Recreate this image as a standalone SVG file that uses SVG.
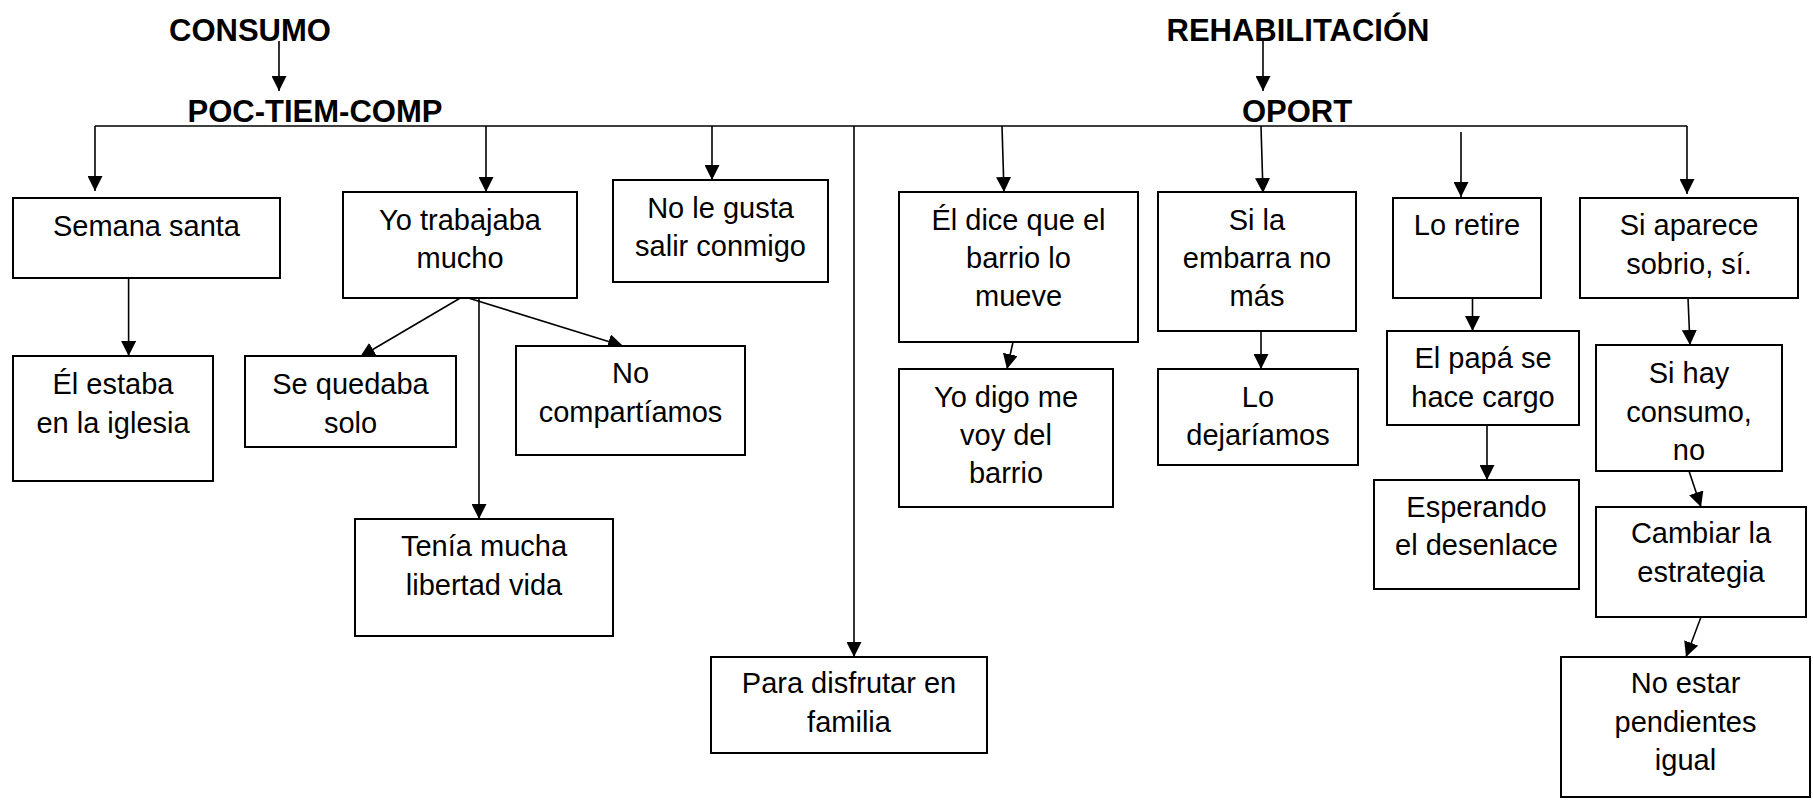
<svg xmlns="http://www.w3.org/2000/svg" width="1813" height="805" viewBox="0 0 1813 805">
<style>
.box{fill:#fff;stroke:#000;stroke-width:2}
.t{font-family:"Liberation Sans",Arial,sans-serif;font-size:29px;fill:#000;text-anchor:middle}
.h{font-family:"Liberation Sans",Arial,sans-serif;font-size:31px;font-weight:bold;fill:#000;text-anchor:middle}
.c line{stroke:#000;stroke-width:1.6;marker-end:url(#ah)}
.c .plain{marker-end:none}
</style>
<defs>
<marker id="ah" markerWidth="16" markerHeight="15" refX="15" refY="7.5" orient="auto" markerUnits="userSpaceOnUse">
<path d="M0,0 L15,7.5 L0,15 z" fill="#000"/>
</marker>
</defs>
<rect width="1813" height="805" fill="#fff"/>
<g id="connectors" class="c">
<line x1="279" y1="41" x2="279" y2="91"/>
<line x1="1263" y1="41" x2="1263" y2="91"/>
<line class="plain" x1="95" y1="126" x2="1687" y2="126"/>
<line x1="95" y1="126" x2="95" y2="191"/>
<line x1="486" y1="126" x2="486" y2="192"/>
<line x1="712" y1="126" x2="712" y2="180"/>
<line x1="854" y1="126" x2="854" y2="657"/>
<line x1="1002" y1="126" x2="1004" y2="192"/>
<line x1="1261" y1="126" x2="1263" y2="193"/>
<line x1="1461" y1="132" x2="1461" y2="197"/>
<line x1="1687" y1="126" x2="1687" y2="194"/>
<line x1="128.6" y1="278" x2="128.6" y2="356"/>
<line x1="462" y1="297" x2="360" y2="357"/>
<line x1="479" y1="298" x2="479" y2="519"/>
<line x1="465" y1="297" x2="623" y2="346"/>
<line x1="1013" y1="342" x2="1007" y2="369"/>
<line x1="1261" y1="331" x2="1261" y2="369"/>
<line x1="1472.5" y1="298" x2="1472.5" y2="331"/>
<line x1="1487" y1="425" x2="1487" y2="480"/>
<line x1="1688" y1="298" x2="1690" y2="345"/>
<line x1="1689" y1="471" x2="1701" y2="507"/>
<line x1="1701" y1="617" x2="1686" y2="657"/>
</g>
<g id="consumo"><text class="h" x="250" y="41">CONSUMO</text></g>
<g id="poc"><text class="h" x="315" y="122">POC-TIEM-COMP</text></g>
<g id="rehab"><text class="h" x="1298" y="41">REHABILITACIÓN</text></g>
<g id="oport"><text class="h" x="1297" y="122">OPORT</text></g>

<g id="semana"><rect class="box" x="13" y="198" width="267" height="80"/><text class="t" x="146.5" y="236">Semana santa</text></g>
<g id="yotrab"><rect class="box" x="343" y="192" width="234" height="106"/><text class="t" x="460" y="230">Yo trabajaba</text><text class="t" x="460" y="268">mucho</text></g>
<g id="nolegusta"><rect class="box" x="613" y="180" width="215" height="102"/><text class="t" x="720.5" y="218">No le gusta</text><text class="t" x="720.5" y="256">salir conmigo</text></g>
<g id="para"><rect class="box" x="711" y="657" width="276" height="96"/><text class="t" x="849" y="693">Para disfrutar en</text><text class="t" x="849" y="732">familia</text></g>
<g id="elestaba"><rect class="box" x="13" y="356" width="200" height="125"/><text class="t" x="113" y="394">Él estaba</text><text class="t" x="113" y="433">en la iglesia</text></g>
<g id="sequedaba"><rect class="box" x="245" y="356" width="211" height="91"/><text class="t" x="350.5" y="394">Se quedaba</text><text class="t" x="350.5" y="433">solo</text></g>
<g id="nocomp"><rect class="box" x="516" y="346" width="229" height="109"/><text class="t" x="630.5" y="383">No</text><text class="t" x="630.5" y="422">compartíamos</text></g>
<g id="tenia"><rect class="box" x="355" y="519" width="258" height="117"/><text class="t" x="484" y="556">Tenía mucha</text><text class="t" x="484" y="595">libertad vida</text></g>

<g id="eldice"><rect class="box" x="899" y="192" width="239" height="150"/><text class="t" x="1018.5" y="230">Él dice que el</text><text class="t" x="1018.5" y="268">barrio lo</text><text class="t" x="1018.5" y="306">mueve</text></g>
<g id="sila"><rect class="box" x="1158" y="192" width="198" height="139"/><text class="t" x="1257" y="230">Si la</text><text class="t" x="1257" y="268">embarra no</text><text class="t" x="1257" y="306">más</text></g>
<g id="loretire"><rect class="box" x="1393" y="198" width="148" height="100"/><text class="t" x="1467" y="235">Lo retire</text></g>
<g id="siaparece"><rect class="box" x="1580" y="198" width="218" height="100"/><text class="t" x="1689" y="235">Si aparece</text><text class="t" x="1689" y="274">sobrio, sí.</text></g>
<g id="yodigo"><rect class="box" x="899" y="369" width="214" height="138"/><text class="t" x="1006" y="407">Yo digo me</text><text class="t" x="1006" y="445">voy del</text><text class="t" x="1006" y="483">barrio</text></g>
<g id="lodej"><rect class="box" x="1158" y="369" width="200" height="96"/><text class="t" x="1258" y="407">Lo</text><text class="t" x="1258" y="445">dejaríamos</text></g>
<g id="papa"><rect class="box" x="1387" y="331" width="192" height="94"/><text class="t" x="1483" y="368">El papá se</text><text class="t" x="1483" y="407">hace cargo</text></g>
<g id="esperando"><rect class="box" x="1374" y="480" width="205" height="109"/><text class="t" x="1476.5" y="517">Esperando</text><text class="t" x="1476.5" y="555">el desenlace</text></g>
<g id="sihay"><rect class="box" x="1596" y="345" width="186" height="126"/><text class="t" x="1689" y="383">Si hay</text><text class="t" x="1689" y="422">consumo,</text><text class="t" x="1689" y="460">no</text></g>
<g id="cambiar"><rect class="box" x="1596" y="507" width="210" height="110"/><text class="t" x="1701" y="543">Cambiar la</text><text class="t" x="1701" y="582">estrategia</text></g>
<g id="noestar"><rect class="box" x="1561" y="657" width="249" height="140"/><text class="t" x="1685.5" y="693">No estar</text><text class="t" x="1685.5" y="732">pendientes</text><text class="t" x="1685.5" y="770">igual</text></g>
</svg>
